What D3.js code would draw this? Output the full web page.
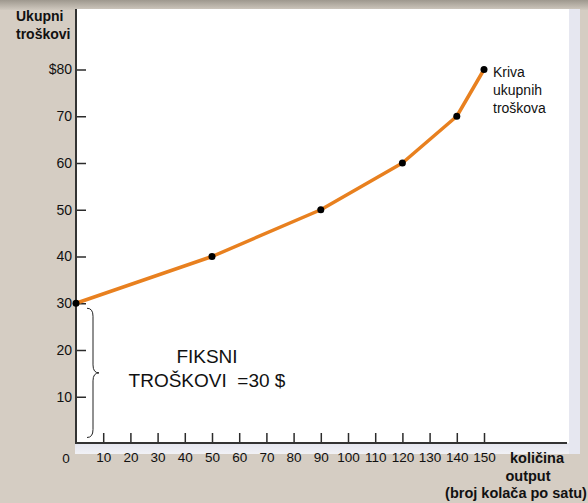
<!DOCTYPE html>
<html>
<head>
<meta charset="utf-8">
<script src="https://cdn.jsdelivr.net/npm/d3@7"></script>
<style>
  body { margin: 0; background: #d5cdc3; }
  svg { display: block; font-family: "Liberation Sans", Arial, sans-serif; }
</style>
</head>
<body>
<div id="chart"></div>
<script>
// data
var outputQty = [0, 50, 90, 120, 140, 150];
var totalCost = [30, 40, 50, 60, 70, 80];
var xTickValues = [10, 20, 30, 40, 50, 60, 70, 80, 90, 100, 110, 120, 130, 140, 150];
var yTickValues = [10, 20, 30, 40, 50, 60, 70, 80];
var curveLabel = ['Kriva', 'ukupnih', 'troškova'];
var yTitle = ['Ukupni', 'troškovi'];
var fixedLabel = ['FIKSNI', 'TROŠKOVI  =30 $'];

var W = 588, H = 503;
var svg = d3.select('#chart').append('svg').attr('width', W).attr('height', H);

var defs = svg.append('defs');
var topGrad = defs.append('linearGradient').attr('id', 'topband')
    .attr('x1', 0).attr('y1', 0).attr('x2', 0).attr('y2', 1);
topGrad.append('stop').attr('offset', '0%').attr('stop-color', '#9e988e');
topGrad.append('stop').attr('offset', '100%').attr('stop-color', '#d0c9bf');
var botGrad = defs.append('linearGradient').attr('id', 'botband')
    .attr('x1', 0).attr('y1', 0).attr('x2', 0).attr('y2', 1);
botGrad.append('stop').attr('offset', '0%').attr('stop-color', '#e4e5ee');
botGrad.append('stop').attr('offset', '100%').attr('stop-color', '#f1f1f5');

// background pieces
svg.append('rect').attr('width', W).attr('height', H).attr('fill', '#d5cdc3');
svg.append('rect').attr('width', W).attr('height', 10).attr('fill', 'url(#topband)');
svg.append('rect').attr('x', 75).attr('y', 443).attr('width', 505).attr('height', 11).attr('fill', 'url(#botband)');
svg.append('rect').attr('x', 569).attr('y', 9).attr('width', 11).attr('height', 445).attr('fill', '#e6e7f0');
svg.append('rect').attr('x', 75).attr('y', 9).attr('width', 494).attr('height', 434).attr('fill', '#ffffff');

var x = d3.scaleLinear().domain([0, 150]).range([76, 484]);
var y = d3.scaleLinear().domain([0, 80]).range([443.5, 69.5]);

// axes, ticks pointing inward
var yAxis = d3.axisLeft(y).tickValues(yTickValues).tickSizeInner(-10).tickSizeOuter(0).tickPadding(4)
    .tickFormat(function (d) { return d === 80 ? '$80' : d; });
var gy = svg.append('g').attr('transform', 'translate(' + x(0) + ',0)').call(yAxis);

var xAxis = d3.axisBottom(x).tickValues(xTickValues).tickSizeInner(-10).tickSizeOuter(0).tickPadding(9);
var gx = svg.append('g').attr('transform', 'translate(0,443)').call(xAxis);

[gx, gy].forEach(function (g) {
    g.select('.domain').remove();
    g.selectAll('.tick line').attr('stroke', '#2b2b2b').attr('stroke-width', 1.5);
    g.selectAll('.tick text').attr('fill', '#111').style('font-size', '13.5px')
        .style('font-family', '"Liberation Sans", Arial, sans-serif');
});
gy.selectAll('.tick text').style('font-size', '14px');

svg.append('line').attr('x1', 76).attr('x2', 76).attr('y1', 9).attr('y2', 444)
    .attr('stroke', '#333').attr('stroke-width', 2);
svg.append('line').attr('x1', 75).attr('x2', 567).attr('y1', 443).attr('y2', 443)
    .attr('stroke', '#333').attr('stroke-width', 2);

svg.append('text').attr('x', 66).attr('y', 463).attr('text-anchor', 'middle')
    .style('font-size', '13.5px').attr('fill', '#111').text('0');

// axis titles
svg.append('text').attr('font-weight', 'bold').style('font-size', '14px').attr('fill', '#111')
    .selectAll('tspan').data(yTitle).enter().append('tspan')
    .attr('x', 16).attr('y', function (d, i) { return 21 + i * 18; }).text(function (d) { return d; });

var xTitle = [
    { t: 'količina', cx: 537, y: 463 },
    { t: 'output', cx: 528, y: 481 },
    { t: '(broj kolača po satu)', cx: 516, y: 498 }
];
svg.selectAll('.xtitle').data(xTitle).enter().append('text')
    .attr('x', function (d) { return d.cx; }).attr('y', function (d) { return d.y; })
    .attr('text-anchor', 'middle').attr('font-weight', 'bold').style('font-size', '14.5px')
    .attr('fill', '#111').text(function (d) { return d.t; });

// total cost curve
var pts = outputQty.map(function (q, i) { return [q, totalCost[i]]; });
var line = d3.line().x(function (d) { return x(d[0]); }).y(function (d) { return y(d[1]); });
svg.append('path').datum(pts).attr('d', line).attr('fill', 'none')
    .attr('stroke', '#e8801f').attr('stroke-width', 3.5).attr('stroke-linejoin', 'round');
svg.selectAll('.dot').data(pts).enter().append('circle')
    .attr('cx', function (d) { return x(d[0]); }).attr('cy', function (d) { return y(d[1]); })
    .attr('r', 3.5).attr('fill', '#000');

svg.append('text').style('font-size', '14px').attr('fill', '#111')
    .selectAll('tspan').data(curveLabel).enter().append('tspan')
    .attr('x', 493).attr('y', function (d, i) { return 77 + i * 18; }).text(function (d) { return d; });

// brace for fixed costs
var b0 = y(30) + 5, b1 = y(0) - 6, bm = (b0 + b1) / 2;
svg.append('path')
    .attr('d', 'M87,' + b0 + ' Q93,' + b0 + ' 93,' + (b0 + 8) + ' L93,' + (bm - 8) +
        ' Q93,' + bm + ' 99,' + bm + ' Q93,' + bm + ' 93,' + (bm + 8) +
        ' L93,' + (b1 - 8) + ' Q93,' + b1 + ' 87,' + b1)
    .attr('fill', 'none').attr('stroke', '#222').attr('stroke-width', 1);

svg.append('text').attr('text-anchor', 'middle').style('font-size', '19px').attr('fill', '#111')
    .selectAll('tspan').data(fixedLabel).enter().append('tspan')
    .attr('x', 207).attr('y', function (d, i) { return 363 + i * 24; })
    .attr('xml:space', 'preserve').style('white-space', 'pre').text(function (d) { return d; });
</script>
</body>
</html>
